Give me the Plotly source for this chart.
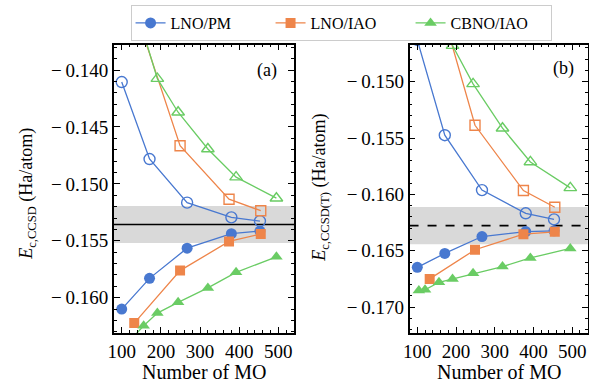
import plotly.graph_objects as go

# ---------------- data ----------------
x_pm = [100, 171, 267, 380, 453]
x_iao = [132, 249, 374, 455]
x_cbno = [104, 120, 156, 191, 244, 320, 392, 495]

# panel (a): CCSD
pm_closed_a = [-0.16100, -0.15830, -0.15565, -0.15438, -0.15415]
pm_open_a = [-0.14106, -0.14782, -0.15165, -0.15294, -0.15327]
iao_closed_a = [-0.16223, -0.15762, -0.15506, -0.15441]
iao_open_a = [-0.1345, -0.14665, -0.15135, -0.15236]
cbno_closed_a = [-0.1640, -0.1638, -0.16247, -0.16135, -0.16041, -0.15914, -0.15777, -0.15641]
cbno_open_a = [-0.1300, -0.1330, -0.1368, -0.14076, -0.14371, -0.14694, -0.14941, -0.15126]
ref_a = -0.15357
ref_err_a = 0.00163

# panel (b): CCSD(T)
pm_closed_b = [-0.16647, -0.16524, -0.16374, -0.16330, -0.16323]
pm_open_b = [-0.1463, -0.15475, -0.15962, -0.16168, -0.16222]
iao_closed_b = [-0.16750, -0.16491, -0.16353, -0.16332]
iao_open_b = [-0.1398, -0.15387, -0.15966, -0.16114]
cbno_closed_b = [-0.16853, -0.16847, -0.16780, -0.16750, -0.16700, -0.16641, -0.16564, -0.16480]
cbno_open_b = [-0.130, -0.134, -0.140, -0.1468, -0.15019, -0.15413, -0.15712, -0.15942]
ref_b = -0.16277
ref_err_b = 0.00165

series_names = ["LNO/PM", "LNO/IAO", "CBNO/IAO"]
colors = ["#4878D0", "#EE854A", "#6ACC64"]
symbols = ["circle", "square", "triangle-up"]

xticks = [100, 200, 300, 400, 500]
yticks_a = [-0.160, -0.155, -0.150, -0.145, -0.140]
yticks_b = [-0.170, -0.165, -0.160, -0.155, -0.150]


def fmt(v):
    s = f"{abs(v):.3f}"
    return ("\u2212\u2009" + s) if v < 0 else s


W, H = 589, 383
FONT = "Times New Roman, Liberation Serif, Tinos, Nimbus Roman, DejaVu Serif, serif"

fig = go.Figure()

panels = [
    ("x", "y", [pm_closed_a, iao_closed_a, cbno_closed_a], [pm_open_a, iao_open_a, cbno_open_a], True),
    ("x2", "y2", [pm_closed_b, iao_closed_b, cbno_closed_b], [pm_open_b, iao_open_b, cbno_open_b], False),
]
xs = [x_pm, x_iao, x_cbno]
for xa, ya, closed, opened, leg in panels:
    for i in range(3):
        fig.add_trace(go.Scatter(
            x=xs[i], y=opened[i], mode="lines+markers", xaxis=xa, yaxis=ya,
            showlegend=False, legendgroup=series_names[i],
            line=dict(color=colors[i], width=1.3),
            marker=dict(symbol=symbols[i] + "-open", size=11 if i != 1 else 10,
                        color=colors[i], line=dict(color=colors[i], width=1.4)),
        ))
    for i in range(3):
        fig.add_trace(go.Scatter(
            x=xs[i], y=closed[i], mode="lines+markers", xaxis=xa, yaxis=ya,
            name=series_names[i], showlegend=leg, legendgroup=series_names[i],
            line=dict(color=colors[i], width=1.3),
            marker=dict(symbol=symbols[i], size=11 if i != 1 else 10,
                        color=colors[i], line=dict(width=0)),
        ))

axis_common = dict(
    showline=True, linecolor="black", linewidth=1.5, mirror="allticks",
    ticks="inside", ticklen=6, tickwidth=1.2, tickcolor="black",
    showgrid=False, zeroline=False,
    tickfont=dict(family=FONT, size=19, color="black"),
)

xdom_a = [109 / W, 291 / W]
xdom_b = [407.7 / W, 587.7 / W]
ydom = [(H - 333) / H, (H - 44.5) / H]

fig.update_layout(
    width=W, height=H,
    margin=dict(l=0, r=0, t=0, b=0),
    plot_bgcolor="white", paper_bgcolor="white",
    font=dict(family=FONT, color="black"),
    xaxis=dict(domain=xdom_a, anchor="y", range=[80, 540], tickvals=xticks,
               ticktext=[str(v) for v in xticks],
               minor=dict(ticks="inside", ticklen=3, dtick=20, tick0=0, tickcolor="black", tickwidth=1),
               **axis_common),
    yaxis=dict(domain=ydom, anchor="x", range=[-0.1631, -0.13776], tickvals=yticks_a,
               ticktext=[fmt(v) for v in yticks_a],
               minor=dict(ticks="inside", ticklen=3, dtick=0.001, tick0=0, tickcolor="black", tickwidth=1),
               **axis_common),
    xaxis2=dict(domain=xdom_b, anchor="y2", range=[80, 540], tickvals=xticks,
                ticktext=[str(v) for v in xticks],
                minor=dict(ticks="inside", ticklen=3, dtick=20, tick0=0, tickcolor="black", tickwidth=1),
                **axis_common),
    yaxis2=dict(domain=ydom, anchor="x2", range=[-0.1723, -0.1467], tickvals=yticks_b,
                ticktext=[fmt(v) for v in yticks_b],
                minor=dict(ticks="inside", ticklen=3, dtick=0.001, tick0=0, tickcolor="black", tickwidth=1),
                **axis_common),
    legend=dict(orientation="h", x=338.5 / W, xanchor="center", y=1 - 5 / H, yanchor="top",
                bordercolor="#cccccc", borderwidth=1, bgcolor="white",
                font=dict(family=FONT, size=16, color="black"), itemwidth=30,
                entrywidth=95, entrywidthmode="pixels"),
    showlegend=True,
)

shapes = []
for xr, yr, ref, err, dash in [("x domain", "y", ref_a, ref_err_a, "solid"),
                               ("x2 domain", "y2", ref_b, ref_err_b, "dash")]:
    shapes.append(dict(type="rect", xref=xr, yref=yr, x0=0, x1=1, y0=ref - err, y1=ref + err,
                       fillcolor="#d9d9d9", line=dict(width=0), layer="below"))
    shapes.append(dict(type="line", xref=xr, yref=yr, x0=0, x1=1, y0=ref, y1=ref,
                       line=dict(color="black", width=1.6, dash=dash), layer="below"))
fig.update_layout(shapes=shapes)

ann = [
    dict(text="(a)", x=276 / W, y=1 - 70 / H, xref="paper", yref="paper",
         xanchor="right", yanchor="middle", showarrow=False, font=dict(size=18)),
    dict(text="(b)", x=576 / W, y=1 - 68 / H, xref="paper", yref="paper",
         xanchor="right", yanchor="middle", showarrow=False, font=dict(size=18)),
    dict(text="Number of MO", x=200 / W, y=1 - 372 / H, xref="paper", yref="paper",
         xanchor="center", yanchor="middle", showarrow=False, font=dict(size=20)),
    dict(text="Number of MO", x=497.7 / W, y=1 - 372 / H, xref="paper", yref="paper",
         xanchor="center", yanchor="middle", showarrow=False, font=dict(size=20)),
    dict(text="<i>E</i><sub>c,CCSD</sub> (Ha/atom)", x=21 / W, y=1 - 194 / H,
         xref="paper", yref="paper", xanchor="center", yanchor="middle",
         textangle=-90, showarrow=False, font=dict(size=18)),
    dict(text="<i>E</i><sub>c,CCSD(T)</sub> (Ha/atom)", x=317 / W, y=1 - 188 / H,
         xref="paper", yref="paper", xanchor="center", yanchor="middle",
         textangle=-90, showarrow=False, font=dict(size=18)),
]
fig.update_layout(annotations=ann)

fig.write_html("out.html", config={"displayModeBar": False},
               post_script="document.body.style.margin='0';document.body.style.overflow='hidden';")
